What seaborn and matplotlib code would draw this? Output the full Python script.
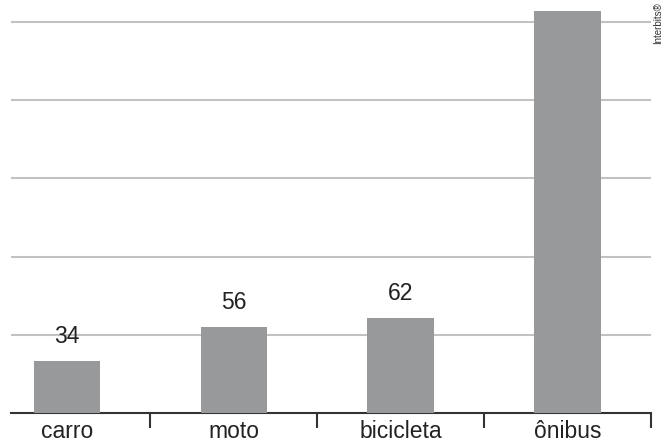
"""Bar chart: meio de transporte (carro, moto, bicicleta, ônibus)."""

import matplotlib

matplotlib.use("Agg")
import matplotlib.pyplot as plt
import pandas as pd
import seaborn as sns

CATEGORIES = ["carro", "moto", "bicicleta", "ônibus"]
VALUES = [34, 56, 62, 262]
SHOW_LABEL = [True, True, True, False]
GRID_LEVELS = [51, 102, 153, 204, 255]

BAR_COLOR = "#98999b"
GRID_COLOR = "#c2c2c2"
AXIS_COLOR = "#333333"


def main():
    sns.set_theme(style="white")
    plt.rcParams["font.family"] = ["Liberation Sans", "DejaVu Sans"]

    df = pd.DataFrame({"meio": CATEGORIES, "valor": VALUES})

    fig = plt.figure(figsize=(6.64, 4.44), dpi=100)
    ax = fig.add_axes([11 / 664, 31.3 / 444, 640 / 664, 412.7 / 444])

    sns.barplot(data=df, x="meio", y="valor", color=BAR_COLOR, width=0.4,
                saturation=1, linewidth=0, ax=ax, zorder=3)

    labels = [str(v) if s else "" for v, s in zip(VALUES, SHOW_LABEL)]
    ax.bar_label(ax.containers[0], labels=labels, padding=9, fontsize=16.5,
                 color="#222222")

    ax.set_xlim(-0.336, 3.5)
    ax.set_ylim(0, 269.5)

    ax.set_yticks(GRID_LEVELS)
    ax.set_yticklabels([])
    ax.yaxis.grid(True, color=GRID_COLOR, linewidth=1.5, zorder=0)
    ax.tick_params(axis="y", length=0)

    ax.set_xticks(range(len(CATEGORIES)))
    ax.set_xticklabels(CATEGORIES, fontsize=16.5, color="#222222")
    ax.set_xticks([i + 0.5 for i in range(len(CATEGORIES))], minor=True)
    ax.tick_params(axis="x", which="major", length=0, pad=5)
    ax.tick_params(axis="x", which="minor", length=11, width=1.5,
                   color=AXIS_COLOR, direction="out", bottom=True)

    ax.set_xlabel("")
    ax.set_ylabel("")
    for side in ["top", "right", "left"]:
        ax.spines[side].set_visible(False)
    ax.spines["bottom"].set_color(AXIS_COLOR)
    ax.spines["bottom"].set_linewidth(1.5)
    ax.set_facecolor("none")

    fig.text(658 / 664, 1 - 2 / 444, "Interbits®", rotation=90, ha="center",
             va="top", fontsize=7, color="#333333")

    fig.savefig("out.png", dpi=100, facecolor="white")
    plt.close(fig)


if __name__ == "__main__":
    main()
